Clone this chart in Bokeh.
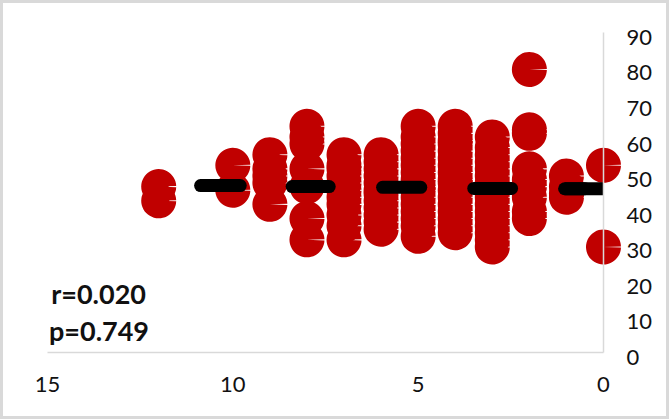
import math
from bokeh.core.properties import value
from bokeh.embed import file_html
from bokeh.models import ColumnDataSource, FixedTicker, LinearAxis, Range1d
from bokeh.plotting import figure
from bokeh.resources import INLINE

# x value -> y values
column_x = [12, 10, 9, 8, 7, 6, 5, 4, 3, 2, 1, 0]
column_y = [
    [48, 44],
    [47, 54],
    [49, 43, 51, 53, 57],
    [48, 65, 62, 60, 53, 39, 33],
    [33, 37, 40, 43, 45, 47, 49, 51, 53, 54, 57],
    [36, 38, 40, 42, 44, 46, 47, 49, 51, 53, 55, 57],
    [34, 37, 39, 41, 43, 45, 47, 48, 50, 52, 54, 56, 58, 60, 62, 65],
    [35, 37, 39, 41, 43, 45, 47, 49, 50, 52, 54, 56, 58, 60, 61, 63, 65],
    [31, 33, 35, 37, 39, 41, 43, 45, 47, 48, 49, 51, 53, 55, 57, 59, 62],
    [81, 64, 63, 39, 41, 45, 48, 50, 53],
    [45, 46, 48, 51],
    [54, 31],
]
mean_y = [48.3, 48, 47.8, 47.5, 47.4]
mean_x0 = [10.87, 8.4, 5.96, 3.5, 1.05]
mean_x1 = [9.8, 7.4, 4.93, 2.48, 0.0]
mean_cap = ["round", "round", "round", "round", "butt"]
x_ticks = [0, 5, 10, 15]
y_ticks = [0, 10, 20, 30, 40, 50, 60, 70, 80, 90]
notes = ["r=0.020", "p=0.749"]

RED = "#c00000"
GRAY = "#d9d9d9"
FONT = "Lato"

pts_x, pts_y = [], []
for cx, ys in zip(column_x, column_y):
    for y in ys:
        pts_x.append(cx)
        pts_y.append(y)

p = figure(
    width=669, height=419,
    x_range=Range1d(16.268, -1.7806), y_range=Range1d(-17.6, 100.42),
    x_axis_location=None, y_axis_location=None,
    toolbar_location=None, output_backend="svg",
    min_border_left=0, min_border_top=0, min_border_right=0, min_border_bottom=0,
)
p.outline_line_color = GRAY
p.outline_line_width = 5
p.grid.visible = False
p.background_fill_color = "white"
p.extra_y_ranges = {"line": Range1d(-18.84, 98.99)}

line_axis = LinearAxis(y_range_name="line", fixed_location=0, bounds=(0, 90), ticker=FixedTicker(ticks=[]))
line_axis.axis_line_color = GRAY
line_axis.axis_line_width = 1.5
line_axis.major_tick_line_color = None
line_axis.minor_tick_line_color = None
p.add_layout(line_axis, "right")

label_axis = LinearAxis(fixed_location=0, ticker=FixedTicker(ticks=y_ticks))
label_axis.axis_line_color = None
label_axis.major_tick_line_color = None
label_axis.minor_tick_line_color = None
label_axis.major_label_standoff = 17
label_axis.major_label_text_font = FONT
label_axis.major_label_text_font_size = "22px"
label_axis.major_label_text_color = "#111111"
p.add_layout(label_axis, "right")

x_axis = LinearAxis(y_range_name="line", fixed_location=0, bounds=(0, 15), ticker=FixedTicker(ticks=x_ticks))
x_axis.axis_line_color = GRAY
x_axis.axis_line_width = 1.5
x_axis.major_tick_line_color = None
x_axis.minor_tick_line_color = None
x_axis.major_label_standoff = 18
x_axis.major_label_text_font = FONT
x_axis.major_label_text_font_size = "22px"
x_axis.major_label_text_color = "#111111"
p.add_layout(x_axis, "below")

SLIT = 0.03
p.wedge(x=pts_x, y=pts_y, radius=17.5, radius_units="screen",
        start_angle=SLIT, end_angle=2 * math.pi - SLIT,
        fill_color=RED, line_color=None)

src = ColumnDataSource(dict(x0=mean_x0, x1=mean_x1, y=mean_y, cap=mean_cap))
p.segment(x0="x0", y0="y", x1="x1", y1="y", source=src, line_color="black",
          line_width=13, line_cap="cap")
p.segment(x0=mean_x0[-1:], y0=mean_y[-1:], x1=[0.5], y1=mean_y[-1:], line_color="black",
          line_width=13, line_cap="round")

p.text(x=[14.9, 14.96], y=[17.9, 7.5], text=notes, text_font=value(FONT),
       text_font_style="bold", text_font_size="27px", text_color="#111111",
       text_baseline="middle", text_align="left")

open("out.html", "w").write(file_html(p, INLINE))
